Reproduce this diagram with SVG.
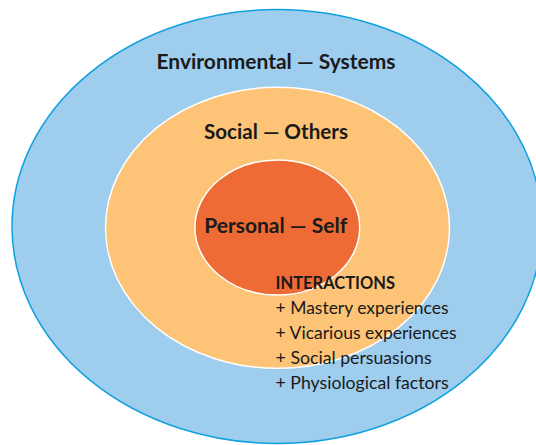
<svg xmlns="http://www.w3.org/2000/svg" width="536" height="445" viewBox="0 0 536 445">
<style>
.t{font-family:Lato,"Open Sans","Liberation Sans",sans-serif;fill:#1a1a1a}
.b{font-weight:700}
.h{font-size:20px}
.i{font-size:16.5px}
.s{font-size:17px}
</style>
<rect width="536" height="445" fill="#ffffff"/>
<g id="environmental">
<ellipse cx="277" cy="226.5" rx="265" ry="217" fill="#9ecdee" stroke="#0fa0de" stroke-width="1.5"/>
<text class="t b h" x="276" y="68.5" text-anchor="middle" textLength="239" lengthAdjust="spacingAndGlyphs">Environmental — Systems</text>
</g>
<g id="social">
<ellipse cx="277.5" cy="227.8" rx="172" ry="140.5" fill="#fdc477" stroke="#ffffff" stroke-width="1.5"/>
<text class="t b h" x="276" y="139" text-anchor="middle" textLength="144" lengthAdjust="spacingAndGlyphs">Social — Others</text>
</g>
<g id="personal">
<ellipse cx="277.3" cy="227.5" rx="82.4" ry="67.5" fill="#ee6b35" stroke="#ffffff" stroke-width="1.5"/>
<text class="t b h" x="275.7" y="233" text-anchor="middle" textLength="143" lengthAdjust="spacingAndGlyphs">Personal — Self</text>
</g>
<g id="interactions">
<text class="t b i" x="275.6" y="288.7" textLength="119.4" lengthAdjust="spacingAndGlyphs">INTERACTIONS</text>
<text class="t s" x="275.6" y="313.8" textLength="173" lengthAdjust="spacingAndGlyphs">+ Mastery experiences</text>
<text class="t s" x="275.6" y="338.8" textLength="181" lengthAdjust="spacingAndGlyphs">+ Vicarious experiences</text>
<text class="t s" x="275.6" y="363.8" textLength="156" lengthAdjust="spacingAndGlyphs">+ Social persuasions</text>
<text class="t s" x="275.6" y="388.8" textLength="173" lengthAdjust="spacingAndGlyphs">+ Physiological factors</text>
</g>
<g id="connectors"/>
</svg>
